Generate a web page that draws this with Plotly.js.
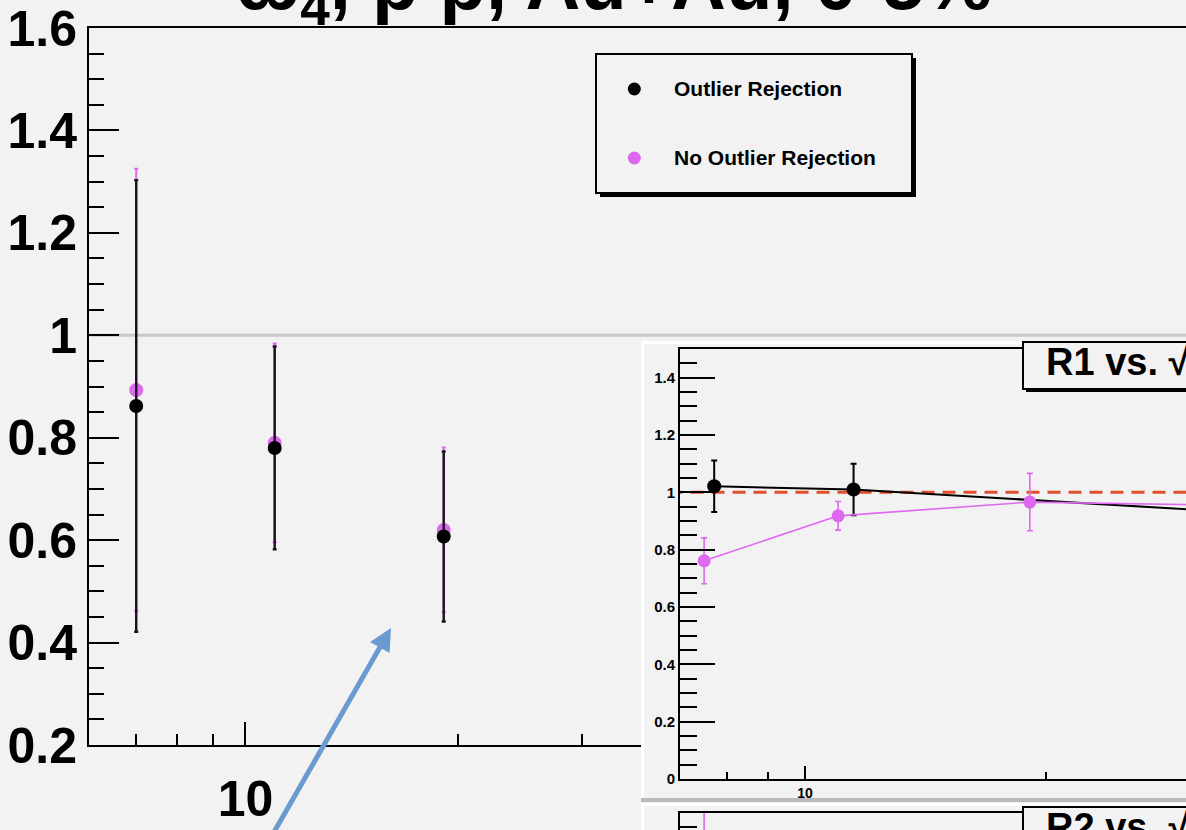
<!DOCTYPE html>
<html><head><meta charset="utf-8">
<script src="https://cdn.plot.ly/plotly-3.0.1.min.js"></script>
<style>
html,body{margin:0;padding:0;overflow:hidden;width:1186px;height:830px;background:#f2f2f2;}
#chart{position:absolute;left:0;top:-40px;width:1300px;height:1000px;}
</style></head><body><div id="chart"></div>
<script>
// ---- data ----
// main panel
const mainEnergy = [7.0, 11.0, 19.1];
const mainOutlier = [0.862, 0.780, 0.607];
const mainOutlierErr = [0.441, 0.198, 0.166];
const mainNoOutlier = [0.893, 0.790, 0.620];
const mainNoOutlierErr = [0.432, 0.194, 0.161];
// R1 inset
const r1EnergyOutlier = [7.7, 11.5, 39];
const r1Outlier = [1.021, 1.010, 0.922];
const r1OutlierErr = [0.09, 0.09, 0.09];
const r1EnergyNoOutlier = [7.48, 11.0, 19.1, 37];
const r1NoOutlier = [0.761, 0.918, 0.966, 0.953];
const r1NoOutlierErr = [0.08, 0.05, 0.10, 0.08];
// R2 inset (only its top strip is visible)
const r2EnergyNoOutlier = [7.48];
const r2NoOutlier = [1.2];
const r2NoOutlierErr = [0.35];
// ticks and labels
const mainYTicks = [0.2, 0.4, 0.6, 0.8, 1, 1.2, 1.4, 1.6];
const mainYTickText = ['0.2', '0.4', '0.6', '0.8', '1', '1.2', '1.4', '1.6'];
const mainXTicks = [10];
const mainXTickText = ['10'];
const mainXMinor = [7, 8, 9, 20, 30, 40, 50, 60, 70, 80, 90, 200];
const insetYTicks = [0, 0.2, 0.4, 0.6, 0.8, 1, 1.2, 1.4];
const insetYTickText = ['0', '0.2', '0.4', '0.6', '0.8', '1', '1.2', '1.4'];
const insetXTicks = [10];
const insetXTickText = ['10'];
const insetXMinor = [8, 9, 20, 30, 40, 50, 60];
const legendLabels = ['Outlier Rejection', 'No Outlier Rejection'];
const titleText = 'ω<sub>4</sub>, p p̄, Au+Au, 0-5%';
const r1Label = 'R1 vs. √s<sub>NN</sub>';
const r2Label = 'R2 vs. √s<sub>NN</sub>';

// ---- layout helpers (container 1300x1000, shifted up by 40px) ----
const W = 1300, H = 1000, OFF = 40;
const px = x => x / W;
const py = y => 1 - (y + OFF) / H;
const F = 'Liberation Sans, Arial, Helvetica, sans-serif';
const BG = '#f2f2f2';
const MAG = '#de68ef';
const BLK = '#000000';

const traces = [
  {x: mainEnergy, y: mainNoOutlier, xaxis: 'x', yaxis: 'y', type: 'scatter', mode: 'markers',
   name: legendLabels[1], marker: {color: MAG, size: 14},
   error_y: {type: 'data', array: mainNoOutlierErr, color: MAG, thickness: 2, width: 2}},
  {x: mainEnergy, y: mainOutlier, xaxis: 'x', yaxis: 'y', type: 'scatter', mode: 'markers',
   name: legendLabels[0], marker: {color: BLK, size: 14},
   error_y: {type: 'data', array: mainOutlierErr, color: '#1a1020', thickness: 2.4, width: 2}},
  // R1 pad (background only)
  {x: [], y: [], xaxis: 'x2', yaxis: 'y2', type: 'scatter', mode: 'markers', showlegend: false, hoverinfo: 'skip'},
  // R1 inset
  {x: r1EnergyOutlier, y: r1Outlier, xaxis: 'x3', yaxis: 'y3', type: 'scatter', mode: 'lines+markers',
   name: legendLabels[0], line: {color: BLK, width: 2}, marker: {color: BLK, size: 14},
   error_y: {type: 'data', array: r1OutlierErr, color: BLK, thickness: 2, width: 3}},
  {x: r1EnergyNoOutlier, y: r1NoOutlier, xaxis: 'x3', yaxis: 'y3', type: 'scatter', mode: 'lines+markers',
   name: legendLabels[1], line: {color: MAG, width: 1.6}, marker: {color: MAG, size: 13},
   error_y: {type: 'data', array: r1NoOutlierErr, color: MAG, thickness: 1.6, width: 3}},
  // R2 pad
  {x: [], y: [], xaxis: 'x4', yaxis: 'y4', type: 'scatter', mode: 'markers', showlegend: false, hoverinfo: 'skip'},
  // R2 inset
  {x: r2EnergyNoOutlier, y: r2NoOutlier, xaxis: 'x5', yaxis: 'y5', type: 'scatter', mode: 'markers',
   name: legendLabels[1], marker: {color: MAG, size: 13},
   error_y: {type: 'data', array: r2NoOutlierErr, color: MAG, thickness: 1.6, width: 3}}
];

function hiddenAxis(domain, anchor) {
  return {domain: domain, range: [0, 1], anchor: anchor, visible: false, fixedrange: true,
          showgrid: false, zeroline: false};
}

const tf = (s) => ({family: F, size: s, color: BLK, weight: 'bold'});

const layout = {
  width: W, height: H,
  margin: {l: 0, r: 0, t: 0, b: 0, pad: 0},
  paper_bgcolor: BG, plot_bgcolor: BG,
  showlegend: false,
  font: {family: F, color: BLK},
  title: {text: titleText, font: {family: F, size: 76, color: BLK, weight: 'bold'},
          xref: 'container', yref: 'container', x: px(236), xanchor: 'left', y: 0.978, yanchor: 'middle'},
  xaxis: {type: 'log', domain: [px(89), 1], range: [Math.log10(6), 2.495], anchor: 'y',
          showline: true, linecolor: BLK, linewidth: 2, mirror: true,
          ticks: 'inside', tickmode: 'array', tickvals: mainXTicks, ticktext: mainXTickText,
          ticklen: 23, tickwidth: 2, tickcolor: BLK, tickfont: tf(50), ticklabelstandoff: 9,
          minor: {tickmode: 'array', tickvals: mainXMinor, ticks: 'inside', ticklen: 11, tickwidth: 2, tickcolor: BLK, showgrid: false},
          showgrid: false, zeroline: false, fixedrange: true},
  yaxis: {domain: [py(745), py(28)], range: [0.2, 1.6], anchor: 'x',
          showline: true, linecolor: BLK, linewidth: 2, mirror: true,
          ticks: 'inside', tickmode: 'array', tickvals: mainYTicks, ticktext: mainYTickText,
          ticklen: 30, tickwidth: 2, tickcolor: BLK, tickfont: tf(50),
          minor: {tick0: 0, dtick: 0.05, ticks: 'inside', ticklen: 15, tickwidth: 2, tickcolor: BLK, showgrid: false},
          showgrid: false, zeroline: false, fixedrange: true},
  // R1 pad
  xaxis2: hiddenAxis([px(641), 1], 'y2'),
  yaxis2: hiddenAxis([py(802), py(341)], 'x2'),
  // R1 inset
  xaxis3: {type: 'log', domain: [px(680), 1], range: [0.84375, 1.61875], anchor: 'y3',
           showline: true, linecolor: BLK, linewidth: 2, mirror: true,
           ticks: 'inside', tickmode: 'array', tickvals: insetXTicks, ticktext: insetXTickText,
           ticklen: 13, tickwidth: 2, tickcolor: BLK, tickfont: tf(14),
           minor: {tickmode: 'array', tickvals: insetXMinor, ticks: 'inside', ticklen: 7, tickwidth: 2, tickcolor: BLK, showgrid: false},
           showgrid: false, zeroline: false, fixedrange: true},
  yaxis3: {domain: [py(779), py(349)], range: [0, 1.5], anchor: 'x3',
           showline: true, linecolor: BLK, linewidth: 2, mirror: true,
           ticks: 'inside', tickmode: 'array', tickvals: insetYTicks, ticktext: insetYTickText,
           ticklen: 35, tickwidth: 2, tickcolor: BLK, tickfont: tf(15),
           minor: {tick0: 0, dtick: 0.05, ticks: 'inside', ticklen: 17, tickwidth: 2, tickcolor: BLK, showgrid: false},
           showgrid: false, zeroline: false, fixedrange: true},
  // R2 pad
  xaxis4: hiddenAxis([px(641), 1], 'y4'),
  yaxis4: hiddenAxis([0, py(803)], 'x4'),
  // R2 inset
  xaxis5: {type: 'log', domain: [px(680), 1], range: [0.84375, 1.61875], anchor: 'y5',
           showline: true, linecolor: BLK, linewidth: 2, mirror: true,
           ticks: '', showticklabels: false, showgrid: false, zeroline: false, fixedrange: true},
  yaxis5: {domain: [0, py(813)], range: [1.5 - 147 / 287, 1.5], anchor: 'x5',
           showline: true, linecolor: BLK, linewidth: 2, mirror: true,
           ticks: 'inside', tickmode: 'array', tickvals: insetYTicks, showticklabels: false,
           ticklen: 35, tickwidth: 2, tickcolor: BLK,
           minor: {tick0: 0, dtick: 0.05, ticks: 'inside', ticklen: 17, tickwidth: 2, tickcolor: BLK, showgrid: false},
           showgrid: false, zeroline: false, fixedrange: true},
  shapes: [
    // main reference line at 1
    {type: 'line', xref: 'x', yref: 'y', x0: 5, x1: 400, y0: 1, y1: 1, layer: 'below',
     line: {color: '#c8c8c8', width: 3}},
    // R1 pad bevels
    {type: 'rect', xref: 'x2', yref: 'y2', x0: 0, x1: 1, y0: 0, y1: 4 / 461, layer: 'below', fillcolor: '#b9b9b9', line: {width: 0}},
    {type: 'rect', xref: 'x2', yref: 'y2', x0: 0, x1: 1, y0: 1 - 3 / 461, y1: 1, layer: 'below', fillcolor: '#ffffff', line: {width: 0}},
    {type: 'rect', xref: 'x2', yref: 'y2', x0: 0, x1: 3 / 659, y0: 4 / 461, y1: 1, layer: 'below', fillcolor: '#ffffff', line: {width: 0}},
    // R2 pad bevels
    {type: 'rect', xref: 'x4', yref: 'y4', x0: 0, x1: 1, y0: 1 - 3 / 157, y1: 1, layer: 'below', fillcolor: '#ffffff', line: {width: 0}},
    {type: 'rect', xref: 'x4', yref: 'y4', x0: 0, x1: 3 / 659, y0: 0, y1: 1, layer: 'below', fillcolor: '#ffffff', line: {width: 0}},
    // R1 inset dashed line at 1
    {type: 'line', xref: 'x3', yref: 'y3', x0: 6, x1: 100, y0: 1, y1: 1, layer: 'below',
     line: {color: '#e0502c', width: 3, dash: '13px,8px'}},
    // legend box
    {type: 'rect', xref: 'paper', yref: 'paper', x0: px(600), x1: px(916), y0: py(197), y1: py(58), layer: 'above', fillcolor: BLK, line: {width: 0}},
    {type: 'rect', xref: 'paper', yref: 'paper', x0: px(596), x1: px(912), y0: py(193), y1: py(54), layer: 'above', fillcolor: BG, line: {color: BLK, width: 2}},
    {type: 'circle', xref: 'paper', yref: 'paper', x0: px(627.8), x1: px(640.8), y0: py(95.5), y1: py(82.5), layer: 'above', fillcolor: BLK, line: {width: 0}},
    {type: 'circle', xref: 'paper', yref: 'paper', x0: px(627.8), x1: px(640.8), y0: py(164.5), y1: py(151.5), layer: 'above', fillcolor: MAG, line: {width: 0}},
    // R1 label box
    {type: 'rect', xref: 'paper', yref: 'paper', x0: px(1026), x1: px(1400), y0: py(392), y1: py(345), layer: 'above', fillcolor: BLK, line: {width: 0}},
    {type: 'rect', xref: 'paper', yref: 'paper', x0: px(1023), x1: px(1400), y0: py(389), y1: py(342), layer: 'above', fillcolor: BG, line: {color: BLK, width: 2}},
    // R2 label box
    {type: 'rect', xref: 'paper', yref: 'paper', x0: px(1026), x1: px(1400), y0: py(857), y1: py(810), layer: 'above', fillcolor: BLK, line: {width: 0}},
    {type: 'rect', xref: 'paper', yref: 'paper', x0: px(1023), x1: px(1400), y0: py(854), y1: py(807), layer: 'above', fillcolor: BG, line: {color: BLK, width: 2}}
  ],
  annotations: [
    {xref: 'paper', yref: 'paper', x: px(672), y: py(88), xanchor: 'left', yanchor: 'middle', showarrow: false,
     text: legendLabels[0], font: tf(21)},
    {xref: 'paper', yref: 'paper', x: px(672), y: py(157), xanchor: 'left', yanchor: 'middle', showarrow: false,
     text: legendLabels[1], font: tf(21)},
    {xref: 'paper', yref: 'paper', x: px(1044), y: py(365), xanchor: 'left', yanchor: 'middle', showarrow: false,
     text: r1Label, font: tf(38)},
    {xref: 'paper', yref: 'paper', x: px(1044), y: py(830), xanchor: 'left', yanchor: 'middle', showarrow: false,
     text: r2Label, font: tf(38)},
    {xref: 'paper', yref: 'paper', x: px(391), y: py(628), text: '', showarrow: true,
     ax: -133, ay: 232, arrowhead: 2, arrowsize: 0.9, arrowwidth: 5, arrowcolor: '#6a9bd0', standoff: 0, startstandoff: 0}
  ]
};

Plotly.newPlot('chart', traces, layout, {staticPlot: true, displayModeBar: false});
</script>
</body></html>
